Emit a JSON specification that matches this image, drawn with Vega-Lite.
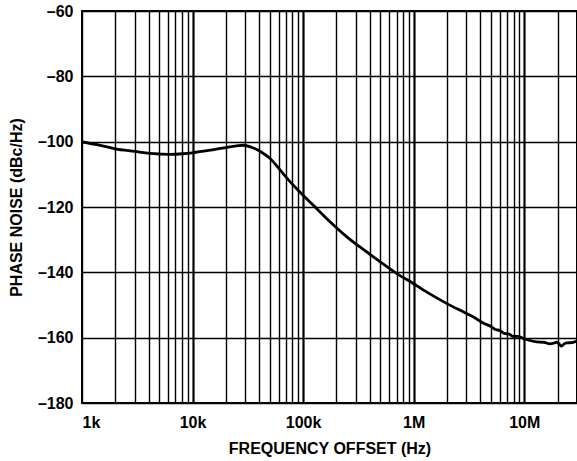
{
  "$schema": "https://vega.github.io/schema/vega-lite/v6.json",
  "width": 495,
  "height": 392,
  "autosize": {"type": "none"},
  "padding": {"left": 82, "top": 11, "right": 0, "bottom": 58},
  "background": "white",
  "config": {
    "font": "Liberation Sans",
    "view": {"stroke": "black", "strokeWidth": 2},
    "axis": {
      "labelFont": "Liberation Sans",
      "labelFontWeight": "bold",
      "labelFontSize": 16,
      "labelColor": "black",
      "titleFont": "Liberation Sans",
      "titleFontWeight": "bold",
      "titleFontSize": 16,
      "titleColor": "black",
      "ticks": false,
      "domain": false,
      "grid": true,
      "gridColor": "black",
      "gridOpacity": 1
    }
  },
  "data": {
    "values": [
      {"freq": 1000, "pn": -100.1},
      {"freq": 1400, "pn": -101.0},
      {"freq": 2000, "pn": -102.2},
      {"freq": 3000, "pn": -103.0},
      {"freq": 4100, "pn": -103.6},
      {"freq": 5200, "pn": -103.8},
      {"freq": 6300, "pn": -103.9},
      {"freq": 8200, "pn": -103.7},
      {"freq": 10000, "pn": -103.4},
      {"freq": 14000, "pn": -102.7},
      {"freq": 20000, "pn": -101.8},
      {"freq": 25000, "pn": -101.3},
      {"freq": 29000, "pn": -101.1},
      {"freq": 34000, "pn": -101.7},
      {"freq": 41000, "pn": -103.0},
      {"freq": 50000, "pn": -105.1},
      {"freq": 62000, "pn": -108.7},
      {"freq": 75000, "pn": -112.0},
      {"freq": 94000, "pn": -115.5},
      {"freq": 123000, "pn": -119.4},
      {"freq": 175000, "pn": -124.5},
      {"freq": 250000, "pn": -129.2},
      {"freq": 350000, "pn": -133.0},
      {"freq": 495000, "pn": -136.7},
      {"freq": 700000, "pn": -140.3},
      {"freq": 990000, "pn": -143.4},
      {"freq": 1400000, "pn": -146.6},
      {"freq": 1980000, "pn": -149.5},
      {"freq": 3000000, "pn": -152.6},
      {"freq": 3600000, "pn": -154.0},
      {"freq": 4250000, "pn": -155.5},
      {"freq": 5000000, "pn": -156.6},
      {"freq": 5500000, "pn": -157.5},
      {"freq": 6000000, "pn": -157.8},
      {"freq": 6600000, "pn": -158.7},
      {"freq": 7300000, "pn": -158.9},
      {"freq": 7900000, "pn": -159.6},
      {"freq": 8700000, "pn": -159.6},
      {"freq": 9800000, "pn": -160.2},
      {"freq": 11000000, "pn": -160.8},
      {"freq": 12900000, "pn": -161.3},
      {"freq": 15000000, "pn": -161.4},
      {"freq": 17000000, "pn": -161.9},
      {"freq": 18500000, "pn": -161.7},
      {"freq": 19600000, "pn": -161.4},
      {"freq": 20800000, "pn": -162.0},
      {"freq": 21700000, "pn": -162.6},
      {"freq": 23000000, "pn": -161.9},
      {"freq": 24100000, "pn": -161.6},
      {"freq": 27000000, "pn": -161.5},
      {"freq": 30000000, "pn": -161.0}
    ]
  },
  "mark": {"type": "line", "color": "black", "strokeWidth": 2.8, "interpolate": "monotone", "clip": true},
  "encoding": {
    "x": {
      "field": "freq",
      "type": "quantitative",
      "scale": {"type": "log", "domain": [1000, 30000000], "nice": false},
      "axis": {
        "title": "FREQUENCY OFFSET (Hz)",
        "values": [1000, 2000, 3000, 4000, 5000, 6000, 7000, 8000, 9000,
                   10000, 20000, 30000, 40000, 50000, 60000, 70000, 80000, 90000,
                   100000, 200000, 300000, 400000, 500000, 600000, 700000, 800000, 900000,
                   1000000, 2000000, 3000000, 4000000, 5000000, 6000000, 7000000, 8000000, 9000000,
                   10000000, 20000000, 30000000],
        "labelExpr": "datum.value == 1000 ? '1k' : datum.value == 10000 ? '10k' : datum.value == 100000 ? '100k' : datum.value == 1000000 ? '1M' : datum.value == 10000000 ? '10M' : ''",
        "labelPadding": 11,
        "titlePadding": 10,
        "gridWidth": {"condition": {"test": "datum.value == 10000 || datum.value == 100000 || datum.value == 1000000 || datum.value == 10000000", "value": 2.2}, "value": 1.4}
      }
    },
    "y": {
      "field": "pn",
      "type": "quantitative",
      "scale": {"domain": [-180, -60], "nice": false},
      "axis": {
        "title": "PHASE NOISE (dBc/Hz)",
        "values": [-180, -160, -140, -120, -100, -80, -60],
        "labelExpr": "'–' + abs(datum.value)",
        "labelPadding": 9,
        "titlePadding": 13,
        "gridWidth": 1.4
      }
    }
  }
}
